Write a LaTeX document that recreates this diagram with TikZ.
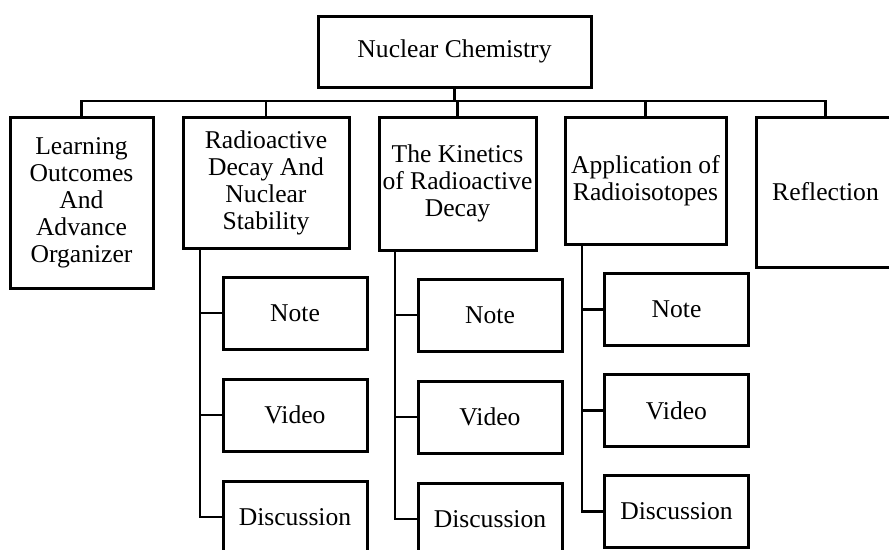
\documentclass[tikz,border=0pt]{standalone}
\usepackage{fontspec}
\setmainfont{Liberation Serif}
\usepackage{tikz}
\usetikzlibrary{positioning}
\tikzstyle{box} = [draw, line width=3pt, inner sep=0pt, outer sep=0pt, align=center]
\tikzstyle{sub} = [box, minimum width=144pt, minimum height=72pt]
\tikzstyle{link} = [line width=2.8pt]

\begin{document}
\begin{tikzpicture}[x=1pt, y=-1pt, font=\fontsize{25.6}{27}\selectfont, node distance=30pt]

   \useasboundingbox (0,0) rectangle (889,549);

   % Top box
   \node[box, minimum width=273pt, minimum height=71pt] (nc) at (454.5,51.5) {Nuclear Chemistry};

   % Main topics
   \node[box, minimum width=143pt, minimum height=171pt] (lo) at (81.5,202.5) {Learning\\Outcomes\\And\\Advance\\Organizer};
   \node[box, minimum width=166pt, minimum height=131pt] (rd) at (266,182.5) {Radioactive\\Decay And\\Nuclear\\Stability};
   \node[box, minimum width=157pt, minimum height=133pt] (kin) at (457.5,183.5) {The Kinetics\\of Radioactive\\Decay};
   \node[box, minimum width=161pt, minimum height=127pt] (app) at (645.5,180.5) {Application of\\Radioisotopes};
   \node[box, minimum width=139pt, minimum height=150pt] (refl) at (825.5,192) {Reflection};

   % Branches from the top box
   \foreach \t in {lo, rd, kin, app, refl}
      \draw[link] (\t.north) -- ++(0,-16) -| (nc.south);

   % Sub topics, second column
   \node[sub] (rdnote) at (295,313) {Note};
   \node[sub, below=of rdnote] (rdvideo) {Video};
   \node[sub, below=of rdvideo] (rddisc) {Discussion};

   % Sub topics, third column
   \node[sub] (kinnote) at (490,315) {Note};
   \node[sub, below=of kinnote] (kinvideo) {Video};
   \node[sub, below=of kinvideo] (kindisc) {Discussion};

   % Sub topics, fourth column
   \node[sub] (appnote) at (676.5,309.5) {Note};
   \node[sub, below=29pt of appnote] (appvideo) {Video};
   \node[sub, below=29pt of appvideo] (appdisc) {Discussion};

   % Side links
   \draw[link] ([xshift=17pt]rd.south west) |- (rddisc.west);
   \draw[link] ([xshift=17pt]rd.south west) |- (rdnote.west);
   \draw[link] ([xshift=17pt]rd.south west) |- (rdvideo.west);

   \draw[link] ([xshift=16pt]kin.south west) |- (kindisc.west);
   \draw[link] ([xshift=16pt]kin.south west) |- (kinnote.west);
   \draw[link] ([xshift=16pt]kin.south west) |- (kinvideo.west);

   \draw[link] ([xshift=17pt]app.south west) |- (appdisc.west);
   \draw[link] ([xshift=17pt]app.south west) |- (appnote.west);
   \draw[link] ([xshift=17pt]app.south west) |- (appvideo.west);

\end{tikzpicture}
\end{document}
